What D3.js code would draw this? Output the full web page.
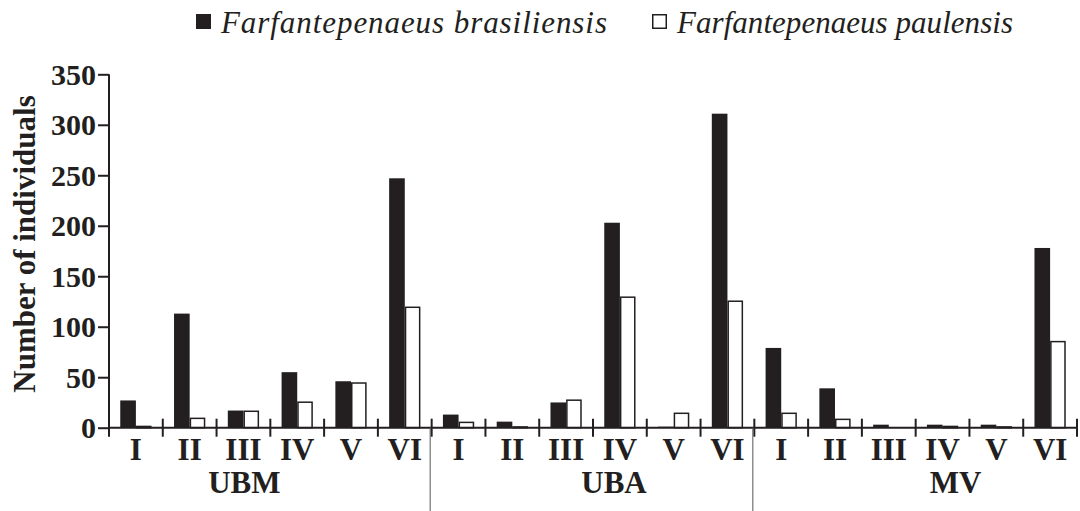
<!DOCTYPE html>
<html>
<head>
<meta charset="utf-8">
<script src="https://cdn.jsdelivr.net/npm/d3@7"></script>
<style>
  html, body { margin: 0; padding: 0; background: #fff; }
  svg { display: block; }
  text { font-family: "Liberation Serif", "Times New Roman", serif; fill: #231f20; }
</style>
</head>
<body>
<svg id="chart" width="1080" height="511"></svg>
<script>
// Sampling sites and periods
const sites = ["UBM", "UBA", "MV"];
const periods = ["I", "II", "III", "IV", "V", "VI"];
const seriesNames = ["Farfantepenaeus brasiliensis", "Farfantepenaeus paulensis"];

// Number of individuals per site, period by period
const brasiliensis = [
  27, 113, 17, 55, 46, 247,   // UBM
  13, 6, 25, 203, 1, 311,     // UBA
  79, 39, 3, 3, 3, 178        // MV
];
const paulensis = [
  2, 10, 17, 26, 45, 120,     // UBM
  6, 1.5, 28, 130, 15, 126,   // UBA
  15, 9, 0, 2, 1.5, 86        // MV
];
const yTicks = [0, 50, 100, 150, 200, 250, 300, 350];

const ink = "#231f20";
const svg = d3.select("#chart");

const plotLeft = 109, plotRight = 1077, plotTop = 74.3, plotBottom = 427.7;

// one slot per site/period pair
const rows = [];
sites.forEach((s, si) => periods.forEach((p, pi) => {
  const k = si * periods.length + pi;
  rows.push({ key: s + "-" + p, site: s, period: p, values: [brasiliensis[k], paulensis[k]] });
}));

const x = d3.scaleBand().domain(rows.map(d => d.key)).range([plotLeft, plotRight]).padding(0);
const inner = d3.scaleBand().domain(seriesNames)
  .range([0, x.bandwidth()]).paddingInner(0).paddingOuter(0.72);
const y = d3.scaleLinear().domain([0, 350]).range([plotBottom, plotTop]);

// bars
const slot = svg.append("g").selectAll("g").data(rows).join("g")
  .attr("transform", d => `translate(${x(d.key)},0)`);
slot.selectAll("rect")
  .data(d => d.values.map((v, i) => ({ v, name: seriesNames[i], i })))
  .join("rect")
  .attr("x", d => inner(d.name) + (d.i === 1 ? 0.75 : 0))
  .attr("width", d => inner.bandwidth() - (d.i === 1 ? 1.5 : 0))
  .attr("y", d => y(d.v) + (d.i === 1 ? 0.75 : 0))
  .attr("height", d => Math.max(0, plotBottom - y(d.v) - (d.i === 1 ? 0.75 : 0)))
  .attr("fill", d => d.i === 0 ? ink : "#fff")
  .attr("stroke", d => d.i === 0 ? "none" : ink)
  .attr("stroke-width", 1.5);

// y axis
const yAxis = svg.append("g")
  .attr("transform", `translate(${plotLeft},0)`)
  .call(d3.axisLeft(y).tickValues(yTicks).tickSize(11).tickPadding(2).tickFormat(d3.format("d")));
yAxis.select(".domain").attr("stroke", ink).attr("stroke-width", 2).attr("d", `M0,${plotTop}V${plotBottom}`);
yAxis.selectAll(".tick line").attr("stroke", ink).attr("stroke-width", 2);
yAxis.selectAll(".tick text")
  .attr("fill", ink)
  .style("font-family", "'Liberation Serif', serif")
  .style("font-size", "30px").style("font-weight", "bold")
  .attr("dy", "0.34em");

// x axis line with ticks crossing it at each slot boundary
const xAxis = svg.append("g");
xAxis.append("line")
  .attr("x1", plotLeft).attr("x2", plotRight).attr("y1", plotBottom).attr("y2", plotBottom)
  .attr("stroke", ink).attr("stroke-width", 2);
const bounds = rows.map(d => x(d.key)).concat([plotRight]);
xAxis.selectAll("line.tk").data(bounds).join("line")
  .attr("class", "tk")
  .attr("x1", d => d).attr("x2", d => d)
  .attr("y1", plotBottom - 9).attr("y2", plotBottom + 9)
  .attr("stroke", ink).attr("stroke-width", 2);

// period labels
xAxis.selectAll("text.period").data(rows).join("text")
  .attr("class", "period")
  .attr("x", d => x(d.key) + x.bandwidth() / 2)
  .attr("y", 460)
  .attr("text-anchor", "middle")
  .style("font-size", "31px").style("font-weight", "bold")
  .text(d => d.period);

// site labels and separators
const siteShift = [-26, 21, 40];
sites.forEach((s, si) => {
  const first = x(s + "-" + periods[0]);
  const last = x(s + "-" + periods[periods.length - 1]) + x.bandwidth();
  svg.append("text")
    .attr("x", (first + last) / 2 + siteShift[si])
    .attr("y", 493)
    .attr("text-anchor", "middle")
    .style("font-size", "31px").style("font-weight", "bold")
    .text(s);
  if (si > 0) {
    svg.append("line")
      .attr("x1", first - 1.5).attr("x2", first - 1.5)
      .attr("y1", plotBottom).attr("y2", 511)
      .attr("stroke", "#555").attr("stroke-width", 1);
  }
});

// y axis title
svg.append("text")
  .attr("transform", `translate(35,244) rotate(-90)`)
  .attr("text-anchor", "middle")
  .style("font-size", "31px").style("font-weight", "bold")
  .text("Number of individuals");

// legend
const legend = svg.append("g").attr("transform", "translate(196,0)");
const legendX = [0, 456];
const legendTextWidth = [386, 336];
seriesNames.forEach((name, i) => {
  const g = legend.append("g").attr("transform", `translate(${legendX[i]},0)`);
  g.append("rect")
    .attr("x", i === 0 ? 0 : 0.75).attr("y", i === 0 ? 14 : 14.75)
    .attr("width", i === 0 ? 15 : 13.5).attr("height", i === 0 ? 15 : 13.5)
    .attr("fill", i === 0 ? ink : "#fff")
    .attr("stroke", i === 0 ? "none" : ink).attr("stroke-width", 1.5);
  g.append("text")
    .attr("x", 25).attr("y", 33)
    .attr("textLength", legendTextWidth[i])
    .attr("lengthAdjust", "spacing")
    .style("font-size", "31px").style("font-style", "italic")
    .text(name);
});
</script>
</body>
</html>
